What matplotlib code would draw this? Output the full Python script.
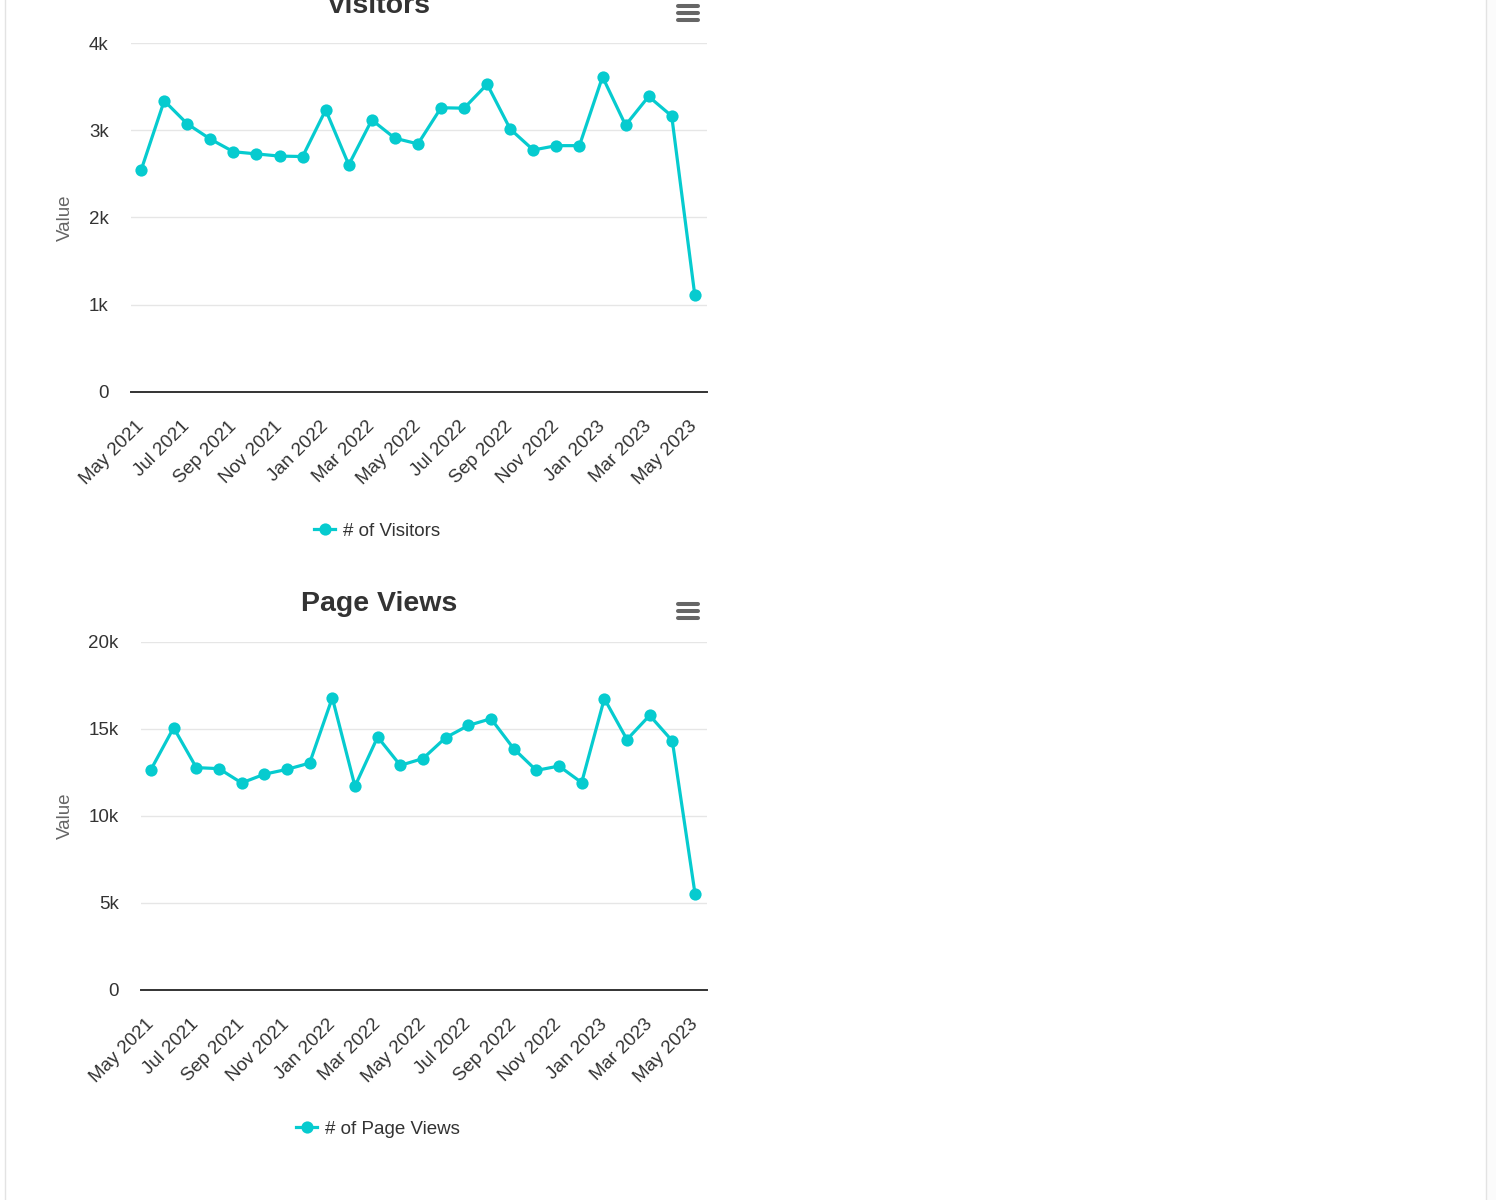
import matplotlib
matplotlib.use('Agg')
import matplotlib.pyplot as plt
from matplotlib.lines import Line2D
from matplotlib.patches import Rectangle

plt.rcParams['font.family'] = ['Liberation Sans', 'DejaVu Sans']

# ---------------- data ----------------
months = ['May 2021', 'Jun 2021', 'Jul 2021', 'Aug 2021', 'Sep 2021', 'Oct 2021',
          'Nov 2021', 'Dec 2021', 'Jan 2022', 'Feb 2022', 'Mar 2022', 'Apr 2022',
          'May 2022', 'Jun 2022', 'Jul 2022', 'Aug 2022', 'Sep 2022', 'Oct 2022',
          'Nov 2022', 'Dec 2022', 'Jan 2023', 'Feb 2023', 'Mar 2023', 'Apr 2023',
          'May 2023']

visitors = [2545, 3340, 3075, 2900, 2755, 2730, 2705, 2700, 3235, 2605, 3120, 2910,
            2845, 3260, 3255, 3530, 3015, 2775, 2825, 2825, 3615, 3060, 3390, 3165,
            1110]

page_views = [12660, 15060, 12770, 12710, 11890, 12390, 12670, 13030, 16780, 11700,
              14530, 12900, 13290, 14490, 15190, 15580, 13860, 12610, 12860, 11910,
              16730, 14380, 15770, 14300, 5540]

visitor_ticks = [0, 1000, 2000, 3000, 4000]
visitor_tick_labels = ['0', '1k', '2k', '3k', '4k']
pv_ticks = [0, 5000, 10000, 15000, 20000]
pv_tick_labels = ['0', '5k', '10k', '15k', '20k']

titles = ['Visitors', 'Page Views']
series_names = ['# of Visitors', '# of Page Views']
y_title = 'Value'

# ---------------- style ----------------
W, H = 1496, 1200
LINE_COLOR = '#06cbcf'
TEXT = '#333333'

fig = plt.figure(figsize=(W / 100, H / 100), dpi=100)
fig.patch.set_facecolor('white')


def frect(l, t, r, b):
    return [l / W, 1 - b / H, (r - l) / W, (b - t) / H]


def draw_panel(rect, values, ticks, tick_labels, title, title_base_y,
               legend_x, legend_y, name, icon_ys, ylabel_x):
    l, t, r, b = rect
    ax = fig.add_axes(frect(l, t, r, b))
    x = list(range(len(values)))
    ax.plot(x, values, color=LINE_COLOR, lw=2.3, marker='o', markersize=8.8,
            markeredgewidth=0, zorder=3, solid_joinstyle='round')
    ax.set_xlim(-0.44, len(values) - 0.47)
    ax.set_ylim(ticks[0], ticks[-1])
    ax.set_yticks(ticks)
    ax.set_yticklabels(tick_labels)
    ax.set_xticks(x[::2])
    ax.set_xticklabels(months[::2])
    for s in ['top', 'right', 'left']:
        ax.spines[s].set_visible(False)
    ax.spines['bottom'].set_color('#333333')
    ax.spines['bottom'].set_linewidth(1.4)
    ax.spines['bottom'].set_zorder(2)
    ax.grid(axis='y', color='#e6e6e6', lw=1.0)
    ax.set_axisbelow(True)
    ax.tick_params(axis='y', length=0, pad=16, labelsize=13.5, labelcolor=TEXT)
    ax.tick_params(axis='x', length=0, pad=23, labelsize=13.5, labelcolor=TEXT)
    for lab in ax.get_xticklabels():
        lab.set_rotation(45)
        lab.set_ha('right')
        lab.set_va('center')
        lab.set_rotation_mode('anchor')
    # y axis title
    fig.text(ylabel_x / W, 1 - ((t + b) / 2) / H, y_title, rotation=90,
             ha='center', va='center', fontsize=13.5, color='#666666')
    # chart title
    fig.text(379 / W, 1 - title_base_y / H, title, ha='center', va='baseline',
             fontsize=20.5, fontweight='bold', color=TEXT)
    # legend
    handle = Line2D([], [], color=LINE_COLOR, lw=2.3, marker='o', markersize=8.8,
                    markeredgewidth=0)
    ax.legend([handle], [name], loc='center',
              bbox_to_anchor=(legend_x / W, 1 - legend_y / H),
              bbox_transform=fig.transFigure, frameon=False, fontsize=13.5,
              handlelength=1.15, handletextpad=0.42, numpoints=1,
              labelcolor=TEXT, borderpad=0)
    # menu icon
    for yy in icon_ys:
        fig.add_artist(Line2D([678 / W, 698 / W], [1 - yy / H, 1 - yy / H],
                              color='#666666', lw=2.9, solid_capstyle='round',
                              transform=fig.transFigure))
    return ax


draw_panel((131, 43.3, 707, 391.7), visitors, visitor_ticks, visitor_tick_labels,
           titles[0], 13, 377, 531, series_names[0], [6, 13, 20], 65)
draw_panel((141, 641.7, 707, 990), page_views, pv_ticks, pv_tick_labels,
           titles[1], 611, 378, 1129, series_names[1], [604, 611, 618], 65)

# page borders
fig.add_artist(Rectangle((1486 / W, 0), 10 / W, 1, transform=fig.transFigure,
                         facecolor='#fbfbfb', edgecolor='none'))
for xx in [4.5, 1485.5]:
    fig.add_artist(Line2D([xx / W, xx / W], [0, 1], color='#e3e3e3', lw=1,
                          transform=fig.transFigure))

fig.savefig('out.png', dpi=100)
